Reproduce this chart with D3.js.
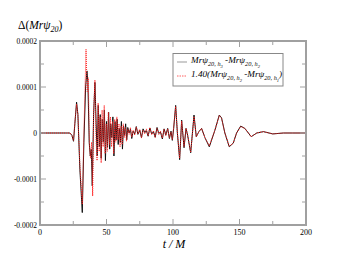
<!DOCTYPE html>
<html><head><meta charset="utf-8">
<script src="https://cdn.jsdelivr.net/npm/d3@7"></script>
<style>html,body{margin:0;padding:0;background:#fff;}svg{display:block;}</style>
</head><body>
<svg id="c" width="345" height="267"></svg>
<script>
// t / M values and differences (units of 1e-5)
const blackT = [0,20,22.5,24,25.2,26.2,27.5,28.5,30,31.8,33,34.3,35.3,36,37,37.8,38.6,39.3,40.3,41.3,42.2,43,43.8,44.6,45.3,46,46.8,47.6,48.4,49.2,50,50.8,51.6,52.4,53.2,54,54.8,55.6,56.4,57.2,58,58.8,59.6,60.4,61.2,62,62.8,63.6,64.4,65.2,66,67,68,69,70,71.2,72.4,73.6,75,76.3,77.5,78.8,80,81.3,82.6,84,85.3,86.6,88,89.3,90.6,92,93.3,94.6,96,97.3,98.5,99.5,100.5,102,103.3,105,106.5,108.3,109.8,111,113.3,115.8,117.5,119.5,121.5,124,127.3,131.5,134.8,136.5,139,142.3,145.3,147.8,150.9,154,158.8,163,168,175,183,190,200];
const blackV = [0,0,0,-0.5,-1.8,2,6.7,4,-8,-17.3,-2,10,13.5,11,-2,-5,-3.5,-11.5,4,11,2,-5,6,-3,4,-5.5,3,-2,5,-6,2.5,-3,4.5,-3.5,2,-1,3.5,-5,2.5,-1.5,3,-2.5,1,-2,2.5,-3.5,1.5,-0.5,2,-1.5,1.2,0,0.8,-1.2,0.4,-0.2,1.4,-0.3,0.6,-1,0.9,0.1,0.5,-0.7,1.1,-0.2,0.3,-0.9,1.2,-0.1,0.2,-1.3,0.9,-0.4,1,-1.2,0.4,-1.6,1,6,0,-5.8,2.8,-3.2,1,-0.5,-4.3,3.9,-0.8,0.3,1,-1,-3,0.6,3.9,3.3,0,-3,-2.2,0,1.5,1,-0.8,0,0.3,-0.2,0,0,0];
const redT = [0,20,22.5,24,25.2,26.2,27.5,28.5,30,31.8,33,34.6,35.5,36.3,37.2,38,38.8,39.6,40.4,41.3,42.1,42.9,43.7,44.5,45.2,46,46.7,47.5,48.3,49,49.8,50.6,51.4,52.2,53,53.8,54.6,55.4,56.2,57,57.8,58.6,59.4,60.2,61,61.8,62.6,63.4,64.2,65,66,67,68,69,70,71.2,72.4,73.6,75,76.3,77.5,78.8,80,81.3,82.6,84,85.3,86.6,88,89.3,90.6,92,93.3,94.6,96,97.3,98.5,99.5,100.5,102,103.3,105,106.5,108.3,109.8,111,113.3,115.8,117.5,119.5,121.5,124,127.3,131.5,134.8,136.5,139,142.3,145.3,147.8,150.9,154,158.8,163,168,175,183,190,200];
const redV = [0,0,0,-0.5,-1.6,2.2,6.3,4,-7,-15.5,0,18.2,9,12,-3,-5.5,-2,-13.7,5,11.5,-1,-6,6.5,-4,3.5,-6.5,5,-3,6,-4.5,2,-4,4.5,-2.5,3.5,-3,2.5,-4.5,3,-2,3.5,-1.5,2,-3,1.5,-2.5,2,-1,1.2,-1.8,0.9,-0.3,1.2,-0.9,0.6,-0.5,1.3,-0.2,0.8,-1.1,0.6,-0.2,0.9,-0.6,1.2,-0.4,0.5,-1,1,-0.3,0.4,-1.1,0.8,-0.6,0.9,-1,0.2,-1.4,1.2,5.8,0,-5.5,2.6,-3,1,-0.5,-4.2,3.6,-0.8,0.3,1,-1,-2.8,0.6,3.8,3.2,0,-2.9,-2.2,0,1.4,1,-0.8,0,0.3,-0.2,0,0,0];
const xTicks = [0,50,100,150,200];
const xMinor = [25,75,125,175];
const yTicks = [-0.0002,-0.0001,0,0.0001,0.0002];
const yTickLabels = ["-0.0002","-0.0001","0","0.0001","0.0002"];
const yMinor = [-0.00015,-0.00005,0.00005,0.00015];

const svg = d3.select("#c");
const L=40,R=306,T=41,B=225;
const x = d3.scaleLinear().domain([0,200]).range([L,R]);
const y = d3.scaleLinear().domain([-0.0002,0.0002]).range([B,T]);
const axCol = "#a0a0a0";
const font = "'Liberation Serif','Times New Roman',serif";

function pts(ts,vs){return ts.map((t,i)=>[t,vs[i]*1e-5]);}
const line = d3.line().x(d=>x(d[0])).y(d=>y(d[1]));

svg.append("defs").append("clipPath").attr("id","clip").append("rect")
  .attr("x",L).attr("y",T-2).attr("width",R-L).attr("height",B-T+4);

const g = svg.append("g").attr("clip-path","url(#clip)");
g.append("path").datum(pts(blackT,blackV)).attr("d",line)
  .attr("fill","none").attr("stroke","#111").attr("stroke-width",1);
g.append("path").datum(pts(redT,redV)).attr("d",line)
  .attr("fill","none").attr("stroke","#ff2020").attr("stroke-width",1)
  .attr("stroke-dasharray","1,1");

// frame
svg.append("rect").attr("x",L).attr("y",T).attr("width",R-L).attr("height",B-T)
  .attr("fill","none").attr("stroke",axCol).attr("stroke-width",2);

// ticks (inward, all sides)
const tk = svg.append("g").attr("stroke",axCol).attr("stroke-width",1);
xTicks.concat(xMinor).forEach(t=>{
  const len = xTicks.includes(t)?6:4;
  tk.append("line").attr("x1",x(t)).attr("x2",x(t)).attr("y1",B).attr("y2",B-len);
  tk.append("line").attr("x1",x(t)).attr("x2",x(t)).attr("y1",T).attr("y2",T+len);
});
yTicks.concat(yMinor).forEach(v=>{
  const len = yTicks.includes(v)?6:4;
  tk.append("line").attr("y1",y(v)).attr("y2",y(v)).attr("x1",L).attr("x2",L+len);
  tk.append("line").attr("y1",y(v)).attr("y2",y(v)).attr("x1",R).attr("x2",R-len);
});

// tick labels
svg.append("g").selectAll("text").data(xTicks).join("text")
  .attr("x",d=>x(d)).attr("y",B+10).attr("text-anchor","middle")
  .attr("font-family",font).attr("font-size",8).attr("fill","#000").text(d=>d);
svg.append("g").selectAll("text").data(yTicks).join("text")
  .attr("x",L-3).attr("y",d=>y(d)+3).attr("text-anchor","end")
  .attr("font-family",font).attr("font-size",7.5).attr("fill","#000").text((d,i)=>yTickLabels[i]);

// axis labels
svg.append("text").attr("x",x(100)+1).attr("y",248).attr("text-anchor","middle")
  .attr("font-family",font).attr("font-size",12).attr("font-style","italic").text("t / M");
const yl = svg.append("text").attr("x",18).attr("y",29).attr("font-family",font).attr("font-size",11.5);
yl.append("tspan").text("Δ(");
yl.append("tspan").attr("font-style","italic").text("Mrψ");
yl.append("tspan").attr("font-size",8).attr("dy",3).attr("font-style","italic").text("20");
yl.append("tspan").attr("dy",-3).text(")");

// legend
const lg = svg.append("g");
lg.append("rect").attr("x",173).attr("y",53.5).attr("width",110).attr("height",32.5)
  .attr("fill","#fff").attr("stroke","#888").attr("stroke-width",1);
lg.append("line").attr("x1",177).attr("x2",187).attr("y1",62).attr("y2",62)
  .attr("stroke","#999").attr("stroke-width",1);
lg.append("line").attr("x1",177).attr("x2",187).attr("y1",76).attr("y2",76)
  .attr("stroke","#ff6060").attr("stroke-width",1).attr("stroke-dasharray","1.5,1");

function entry(yy, pre, a, b){
  const t = lg.append("text").attr("x",191).attr("y",yy).attr("font-family",font)
    .attr("font-size",9.2).attr("font-style","italic").attr("fill","#000");
  if(pre) t.append("tspan").text(pre);
  t.append("tspan").text("Mrψ");
  t.append("tspan").attr("font-size",6.3).attr("dy",3).text("20, h");
  t.append("tspan").attr("font-size",4.5).attr("dy",1.5).text(a);
  t.append("tspan").attr("dy",-4.5).text(" -Mrψ");
  t.append("tspan").attr("font-size",6.3).attr("dy",3).text("20, h");
  t.append("tspan").attr("font-size",4.5).attr("dy",1.5).text(b);
  if(pre) t.append("tspan").attr("dy",-4.5).text(")");
}
entry(63,"", "3","2");
entry(77,"1.40(", "2","1");
</script>
</body></html>
